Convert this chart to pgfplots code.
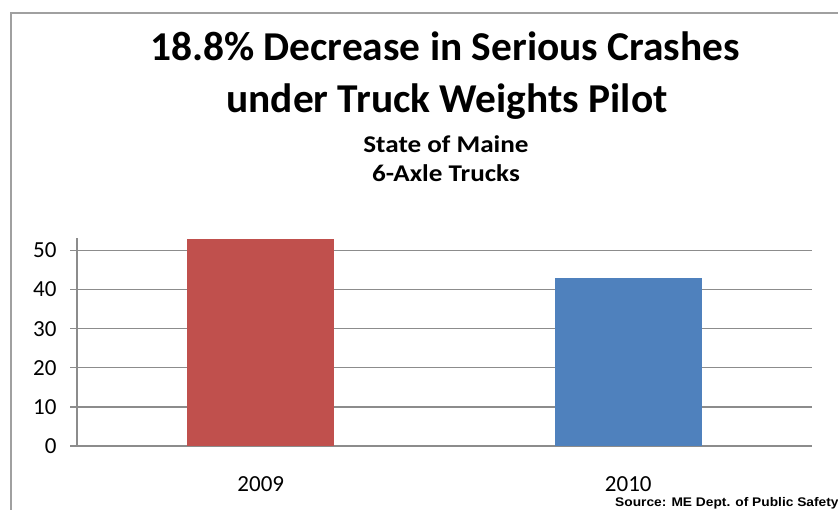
\documentclass[border=0pt]{standalone}
\usepackage{pgfplots}
\pgfplotsset{compat=1.18}
\usepackage{fontspec}
\setmainfont{Carlito}
\newfontfamily\arialfont{Liberation Sans}
\definecolor{barred}{HTML}{C0504D}
\definecolor{barblue}{HTML}{4F81BD}
\definecolor{gridgray}{HTML}{8C8C8C}
\definecolor{framegray}{HTML}{A0A0A0}
\begin{document}
\begin{tikzpicture}[x=1bp,y=1bp]
\useasboundingbox (0,0) rectangle (838,510);
\draw[framegray, line width=1.5bp] (11,-5) -- (11,497) -- (845,497);
\node[anchor=base, xscale=1.01] at (445,449) {\fontsize{41bp}{48bp}\selectfont\bfseries 18.8\% Decrease in Serious Crashes};
\node[anchor=base, xscale=1.01] at (447,397) {\fontsize{41bp}{48bp}\selectfont\bfseries under Truck Weights Pilot};
\node[anchor=base, xscale=1.13] at (446,357.7) {\fontsize{24bp}{28bp}\selectfont\bfseries State of Maine};
\node[anchor=base, xscale=1.13] at (446,328.3) {\fontsize{24bp}{28bp}\selectfont\bfseries 6-Axle Trucks};
\node[anchor=base west, inner sep=0pt, xscale=1.1] at (615,3.5) {\arialfont\fontsize{12.5bp}{15bp}\selectfont\bfseries Source: ME Dept. of Public Safety};
\begin{axis}[
  at={(77bp,64bp)}, anchor=south west,
  scale only axis, width=735bp, height=208bp,
  xmin=-0.5, xmax=1.5, ymin=0, ymax=53.2,
  axis x line=bottom, axis y line=left,
  axis line style={gridgray, line width=1.3bp, -},
  xtick={0,1}, xticklabels={2009,2010},
  minor xtick={-0.5,0.5,1.5},
  ytick={0,10,20,30,40,50},
  ymajorgrids, grid style={gridgray, line width=1.3bp},
  tick align=outside,
  major tick length=7bp, minor tick length=10bp,
  xtick style={draw=none},
  minor x tick style={gridgray, line width=1.3bp},
  ytick style={gridgray, line width=1.3bp},
  tick label style={font=\fontsize{23bp}{26bp}\selectfont},
  /pgf/number format/assume math mode=true,
  xticklabel style={yshift=-20bp},
  yticklabel style={xshift=-10bp},
  clip=false,
]
\addplot[ybar, bar width=147bp, fill=barred, draw=none, bar shift=0pt] coordinates {(0,53)};
\addplot[ybar, bar width=147bp, fill=barblue, draw=none, bar shift=0pt] coordinates {(1,43)};
\end{axis}
\end{tikzpicture}
\end{document}
